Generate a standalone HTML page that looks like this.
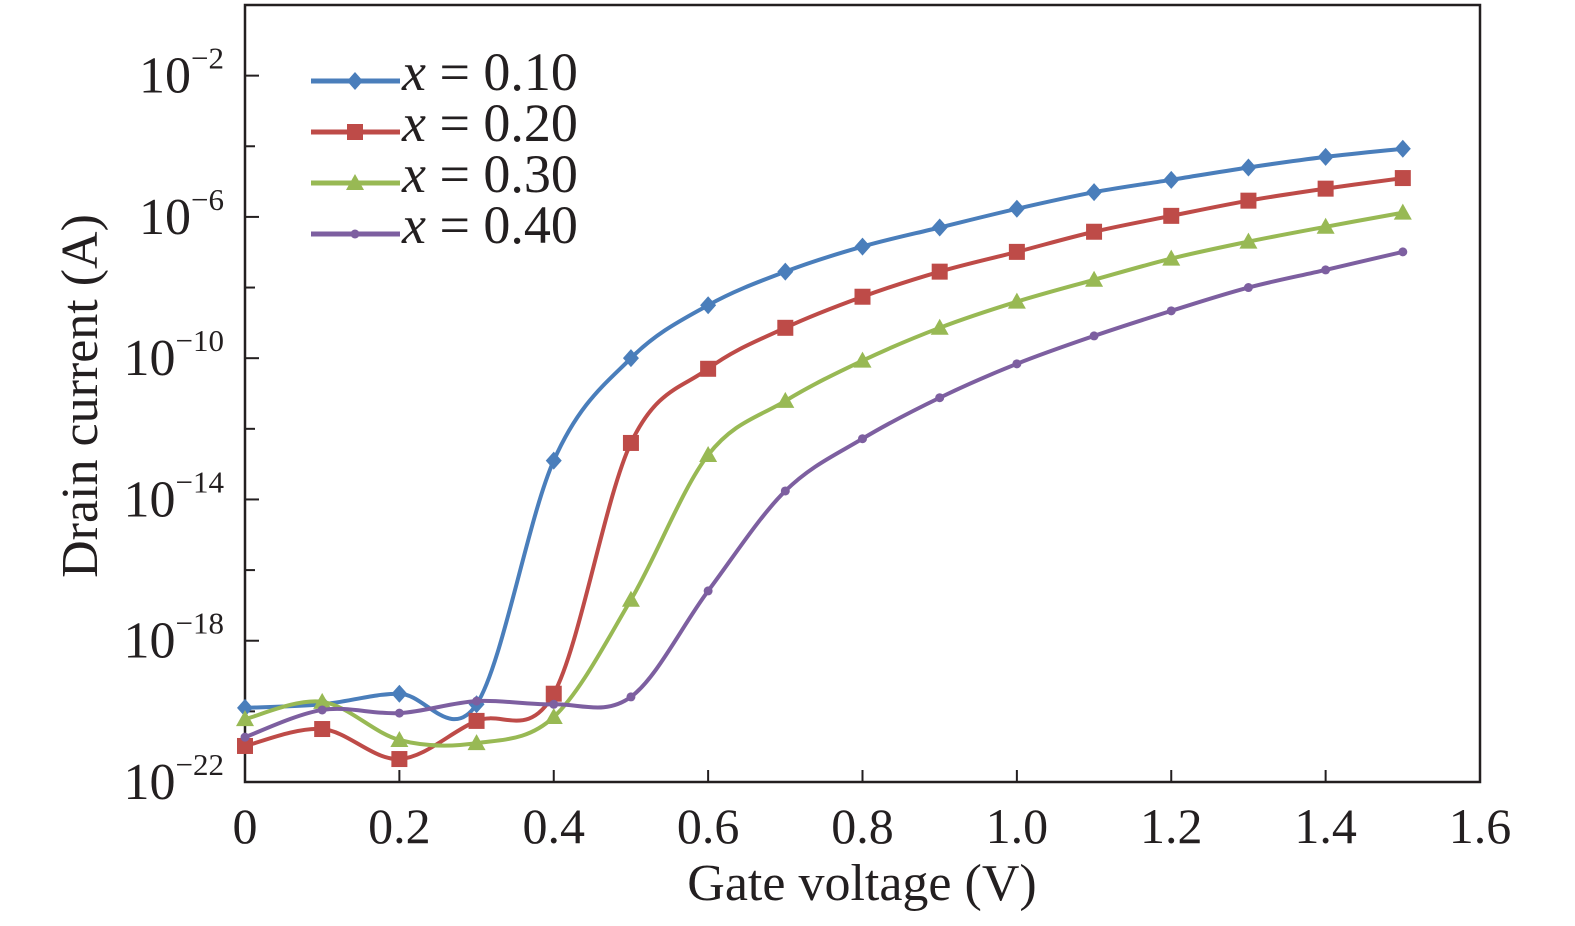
<!DOCTYPE html>
<html><head><meta charset="utf-8"><style>
body{margin:0;background:#fff}
svg text{font-family:"Liberation Serif",serif;fill:#231f20}
</style></head><body>
<svg width="1575" height="921" viewBox="0 0 1575 921">
<g id="axes"></g><g id="series"></g><g id="legend"></g>
</svg>
<script>
const xs=[0,0.1,0.2,0.3,0.4,0.5,0.6,0.7,0.8,0.9,1.0,1.1,1.2,1.3,1.4,1.5];
const s010=[-19.9,-19.8,-19.5,-19.8,-12.9,-10,-8.5,-7.55,-6.84,-6.3,-5.77,-5.3,-4.95,-4.6,-4.3,-4.07];
const s020=[-20.98,-20.5,-21.35,-20.27,-19.5,-12.4,-10.3,-9.14,-8.26,-7.55,-6.99,-6.42,-5.97,-5.54,-5.2,-4.9];
const s030=[-20.22,-19.73,-20.81,-20.9,-20.16,-16.84,-12.74,-11.21,-10.07,-9.14,-8.4,-7.78,-7.18,-6.7,-6.28,-5.88];
const s040=[-20.73,-19.96,-20.05,-19.71,-19.8,-19.59,-16.59,-13.76,-12.28,-11.12,-10.16,-9.37,-8.66,-8,-7.5,-6.99];
const xTicks=[0,0.2,0.4,0.6,0.8,1.0,1.2,1.4,1.6];
const xTickLabels=["0","0.2","0.4","0.6","0.8","1.0","1.2","1.4","1.6"];
const yTicks=[-2,-6,-10,-14,-18,-22];
const yTickLabels=["\u22122","\u22126","\u221210","\u221214","\u221218","\u221222"];
const seriesNames=["x = 0.10","x = 0.20","x = 0.30","x = 0.40"];
const NS="http://www.w3.org/2000/svg";
const L=245,R=1480,T=5,B=782;
const X=v=>L+(v-0)/(1.6)*(R-L);
const Y=v=>B-(v+22)/22*(B-T);
function mk(tag,attrs,parent){const e=document.createElementNS(NS,tag);for(const k in attrs)e.setAttribute(k,attrs[k]);parent.appendChild(e);return e;}
const ax=document.getElementById('axes');
const frame=mk('rect',{x:L,y:T,width:R-L,height:B-T,fill:'none',stroke:'#231f20','stroke-width':2.5},ax);


xTicks.forEach((v,i)=>{
 const t=mk('line',{x1:X(v),x2:X(v),y1:B,y2:B-12,stroke:'#231f20','stroke-width':2},ax);
 
 
 const tx=mk('text',{x:X(v),y:843,'text-anchor':'middle','font-size':50},ax);tx.textContent=xTickLabels[i];
 
 
});
for(let d=-22;d<=0;d+=2){
 const major=yTicks.includes(d);
 const t=mk('line',{x1:L,x2:L+(major?14:10),y1:Y(d),y2:Y(d),stroke:'#231f20','stroke-width':2},ax);
 
 
}
yTicks.forEach((v,i)=>{
 const tx=mk('text',{x:224,y:Y(v)+17,'text-anchor':'end','font-size':52},ax);
 tx.innerHTML='10<tspan dy="-24" font-size="31">'+yTickLabels[i]+'</tspan>';
 
 
});
const xt=mk('text',{x:862,y:900,'text-anchor':'middle','font-size':52},ax);xt.textContent='Gate voltage (V)';


const yt=mk('text',{x:0,y:0,'text-anchor':'middle','font-size':52,transform:'translate(97,396) rotate(-90)'},ax);yt.textContent='Drain current (A)';


const colors=['#4a7ebb','#be4b48','#98b954','#7d5fa0'];
const data=[s010,s020,s030,s040];
function path(pts){let d='M'+pts[0][0]+','+pts[0][1];for(let i=0;i<pts.length-1;i++){const p0=pts[i-1]||pts[i],p1=pts[i],p2=pts[i+1],p3=pts[i+2]||p2;const c1=[p1[0]+(p2[0]-p0[0])/6,p1[1]+(p2[1]-p0[1])/6],c2=[p2[0]-(p3[0]-p1[0])/6,p2[1]-(p3[1]-p1[1])/6];d+=' C'+c1+' '+c2+' '+p2;}return d;}
function marker(k,x,y,g){
 if(k===0)return mk('path',{d:`M${x},${y-9}L${x+8},${y}L${x},${y+9}L${x-8},${y}Z`,fill:colors[0]},g);
 if(k===1)return mk('rect',{x:x-8,y:y-8,width:16,height:16,fill:colors[1]},g);
 if(k===2)return mk('path',{d:`M${x},${y-9}L${x+9},${y+7}L${x-9},${y+7}Z`,fill:colors[2]},g);
 return mk('circle',{cx:x,cy:y,r:4.5,fill:colors[3]},g);
}
const sg=document.getElementById('series');
data.forEach((s,k)=>{
 const g=mk('g',{},sg);
 
 
 const pts=xs.map((v,i)=>[X(v),Y(s[i])]);
 const p=mk('path',{d:path(pts),fill:'none',stroke:colors[k],'stroke-width':4},g);
 
 
 pts.forEach(q=>{const m=marker(k,q[0],q[1],g);
  
  });
});
const lg=document.getElementById('legend');
seriesNames.forEach((n,k)=>{
 const y=81+k*51;
 const g=mk('g',{},lg);
 
 
 mk('line',{x1:311,x2:400,y1:y,y2:y,stroke:colors[k],'stroke-width':5},g);
 marker(k,355,y,g);
 const t=mk('text',{x:402,y:y+9,'font-size':54},g);
 t.innerHTML='<tspan font-style="italic">x</tspan> = '+n.split('= ')[1];
});
</script>
</body></html>
